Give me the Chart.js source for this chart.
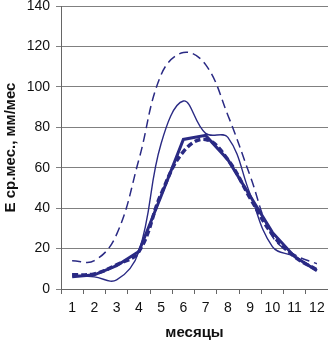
<!DOCTYPE html>
<html><head><meta charset="utf-8">
<script src="https://cdn.jsdelivr.net/npm/chart.js@4/dist/chart.umd.min.js"></script>
<style>html,body{margin:0;padding:0;background:#fff}</style>
</head><body>
<canvas id="c" width="328" height="342"></canvas>
<script>
const months = ['1','2','3','4','5','6','7','8','9','10','11','12'];
const upperDashed = [14, 14, 27, 64, 106, 117, 111, 86, 56, 26, 17, 12.5];
const thinSolid   = [7, 6, 4.5, 18.5, 72, 93, 77, 75, 47, 21, 16, 9.5];
const thickSolid  = [6, 7, 11.5, 18.5, 46, 74, 76, 64, 46, 28, 16, 9];
const thickDashed = [7, 7.5, 12, 18.5, 47, 68, 74, 64, 45, 27, 16, 9.5];
const yTicks = [0, 20, 40, 60, 80, 100, 120, 140];

const navy = '#2a2a84';
const tickFont = {family: 'Liberation Sans', size: 14};
const titleFont = {family: 'Liberation Sans', size: 15, weight: 'bold'};

new Chart(document.getElementById('c'), {
  type: 'line',
  data: {
    labels: months,
    datasets: [
      {data: upperDashed, borderColor: navy, borderWidth: 1.5, borderDash: [9, 5], tension: 0.4, pointRadius: 0, fill: false},
      {data: thinSolid, borderColor: navy, borderWidth: 1.4, tension: 0.4, pointRadius: 0, fill: false},
      {data: thickSolid, borderColor: navy, borderWidth: 3, tension: 0, pointRadius: 0, fill: false},
      {data: thickDashed, borderColor: navy, borderWidth: 3.5, borderDash: [6, 3], tension: 0.4, pointRadius: 0, fill: false}
    ]
  },
  options: {
    responsive: false,
    animation: false,
    devicePixelRatio: 1,
    layout: {padding: {top: 6, left: 0, right: 0, bottom: 0}},
    plugins: {legend: {display: false}, tooltip: {enabled: false}},
    scales: {
      x: {
        offset: true,
        grid: {offset: true, drawOnChartArea: false, drawTicks: true, tickLength: 5, color: '#666'},
        border: {color: '#666'},
        ticks: {font: tickFont, color: '#111', padding: 6, maxRotation: 0, autoSkip: false},
        title: {display: true, text: 'месяцы', font: titleFont, color: '#111', padding: {top: 0, bottom: 0}},
        afterFit(s) { s.height = 53; s.paddingLeft = 0; s.paddingRight = 0; }
      },
      y: {
        min: 0, max: 140,
        afterBuildTicks(s) { s.ticks = yTicks.map(v => ({value: v})); },
        grid: {color: '#808080', tickLength: 5},
        border: {color: '#666'},
        ticks: {font: tickFont, color: '#111', padding: 6},
        title: {display: true, text: 'E ср.мес., мм/мес', font: titleFont, color: '#111', padding: {top: 2, bottom: 0}},
        afterFit(s) { s.width = 61; s.paddingTop = 0; s.paddingBottom = 0; }
      }
    }
  }
});
</script>
</body></html>
